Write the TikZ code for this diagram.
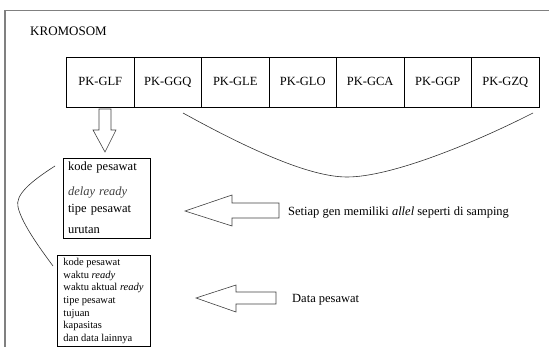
\documentclass[tikz,border=0pt]{standalone}
\usepackage{fontspec}
\setmainfont{Liberation Serif}
\usetikzlibrary{positioning}

\begin{document}
\begin{tikzpicture}
[x=1pt,y=-1pt,%
  gen/.style={draw,line width=0.8pt,minimum width=67.5pt,minimum height=50pt,
    inner sep=0pt,outer sep=0pt,text height=9pt,text depth=2.5pt,
    font=\fontsize{12.5}{15}\selectfont},%
  box/.style={draw,line width=0.8pt,anchor=north west,align=left,outer sep=0pt},%
  hollow/.style={draw=black!75,line width=0.6pt,line join=miter},%
  swoop/.style={draw=black!80,line width=0.6pt},%
  note/.style={anchor=base west,inner sep=0pt,font=\fontsize{12.5}{15}\selectfont}]
\useasboundingbox (0,0) rectangle (549,347);
% frame
\draw[gray,line width=1.2pt] (549,10.5) -- (5,10.5) -- (5,347);
\node[anchor=west,inner sep=0pt,font=\fontsize{13}{15}\selectfont] (title) at (30,31) {KROMOSOM};

% chromosome
\node[gen] (GLF) at (100.25,82) {PK-GLF};
\foreach \g [remember=\g as \prev (initially GLF)] in {GGQ,GLE,GLO,GCA,GGP,GZQ}
  \node[gen,right=0pt of \prev] (\g) {PK-\g};
\draw[swoop] (183,113) .. controls (250,150) and (310,177) .. (347,177)
  .. controls (390,177) and (470,145) .. (533,113);

% allele of one gene
\node[box,text width=77pt,inner xsep=5pt,minimum height=80pt,
  font=\fontsize{12.5}{15}\selectfont] (allele) at (63,158)
  {kode pesawat\\[10pt]
   \textcolor{black!75}{\textit{delay ready}}\\[2pt]
   tipe pesawat\\[6pt]
   urutan};
\draw[hollow] (99,109) -- (111,109) -- (111,130) -- (116,130) -- (105,152)
  -- (93,130) -- (99,130) -- cycle;

% data
\node[box,inner xsep=6pt,minimum width=93pt,minimum height=90pt,
  font=\fontsize{10.5}{12.6}\selectfont] (data) at (57,255)
  {kode pesawat\\
   waktu \textit{ready}\\
   waktu aktual \textit{ready}\\
   tipe pesawat\\
   tujuan\\
   kapasitas\\
   dan data lainnya};
\draw[swoop] (55,166) .. controls (30,182) and (15,195) .. (18,207)
  .. controls (22,225) and (45,255) .. (53,266);

% pointers
\draw[hollow] (185,211) -- (232,195) -- (232,203) -- (279,203) -- (279,218)
  -- (232,218) -- (232,226) -- cycle;
\node[note] (allel) at (288,215.5) {Setiap gen memiliki \textit{allel} seperti di samping};
\draw[hollow] (196,298) -- (236,285) -- (236,292) -- (276,292) -- (276,304)
  -- (236,304) -- (236,312) -- cycle;
\node[note] (pesawat) at (292,303) {Data pesawat};
\end{tikzpicture}
\end{document}
